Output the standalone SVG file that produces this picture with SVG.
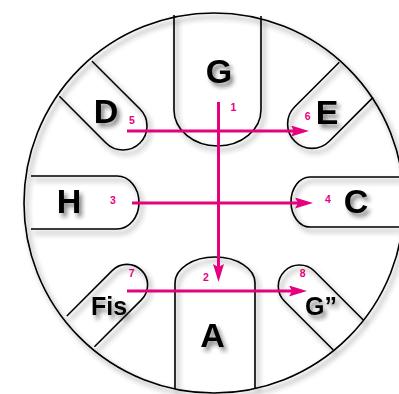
<svg xmlns="http://www.w3.org/2000/svg" width="399" height="394" viewBox="0 0 399 394">
<defs>
<filter id="sh" x="-10%" y="-10%" width="120%" height="120%">
<feDropShadow dx="3" dy="4" stdDeviation="2.5" flood-color="#333" flood-opacity="0.6"/>
</filter>
<filter id="tsh" x="-30%" y="-30%" width="160%" height="160%">
<feDropShadow dx="3" dy="4" stdDeviation="2" flood-color="#222" flood-opacity="0.55"/>
</filter>
<marker id="ah" viewBox="0 0 18 11" refX="10" refY="5.5" markerWidth="18" markerHeight="11" markerUnits="userSpaceOnUse" orient="auto">
<path d="M0,0 L18,5.5 L0,11 L3,5.5 z" fill="#e6007e"/>
</marker>
<style>
.ol{fill:none;stroke:#000;stroke-width:1.6}
.big{font-family:"Liberation Sans",Arial,sans-serif;font-weight:bold;font-size:34px;text-anchor:middle;fill:#000}
.mid{font-family:"Liberation Sans",Arial,sans-serif;font-weight:bold;font-size:25px;text-anchor:middle;fill:#000}
.num{font-family:"Liberation Sans",Arial,sans-serif;font-weight:bold;font-size:10.5px;text-anchor:middle;fill:#e6007e}
.cn{fill:none;stroke:#e6007e;stroke-width:3}
</style>
</defs>
<rect width="399" height="394" fill="#fff"/>
<g id="outlines" filter="url(#sh)">
<g id="rim"><circle class="ol" cx="214" cy="203" r="190" stroke-width="1.4"/></g>
<g id="petal-G"><path class="ol" d="M174,15 L174,110 A43.5,36 0 0 0 261,110 L261,16"/></g>
<g id="petal-D"><path class="ol" transform="translate(123,126) rotate(45)" d="M-68,-24 L0,-24 A24,24 0 0 1 0,24 L-66,24"/></g>
<g id="petal-E"><path class="ol" transform="translate(312,124) rotate(135)" d="M-62,-24.4 L0,-24.4 A24.4,24.4 0 0 1 0,24.4 L-63,24.4"/></g>
<g id="petal-H"><path class="ol" d="M31,176 L117,176 A22,26.5 0 0 1 117,229 L31,229"/></g>
<g id="petal-C"><path class="ol" d="M399,177 L310,177 A19,25 0 0 0 310,227 L399,227"/></g>
<g id="petal-Fis"><path class="ol" transform="translate(127,285) rotate(-45)" d="M-64.5,-20.6 L0,-20.6 A20.6,20.6 0 0 1 0,20.6 L-66.7,20.6"/></g>
<g id="petal-A"><path class="ol" d="M175,389 L175,283 A40,26 0 0 1 255,283 L255,389"/></g>
<g id="petal-G2"><path class="ol" transform="translate(299.5,286.2) rotate(-135)" d="M-69,-21.2 L0,-21.2 A21.2,21.2 0 0 1 0,21.2 L-69,21.2"/></g>
</g>
<g id="labels" filter="url(#tsh)">
<text id="node-G" class="big" x="219" y="83">G</text>
<text id="node-D" class="big" x="106" y="123">D</text>
<text id="node-E" class="big" x="327" y="123.5">E</text>
<text id="node-H" class="big" x="69" y="213">H</text>
<text id="node-C" class="big" x="356" y="212.5">C</text>
<text id="node-Fis" class="mid" x="109" y="315">Fis</text>
<text id="node-A" class="big" x="212.5" y="346.5" font-size="32">A</text>
<text id="node-G2" class="mid" x="321" y="315">G”</text>
</g>
<g id="numbers">
<text class="num" x="233.5" y="111">1</text>
<text class="num" x="206" y="280.5">2</text>
<text class="num" x="113" y="204">3</text>
<text class="num" x="328" y="202.5">4</text>
<text class="num" x="132" y="124">5</text>
<text class="num" x="307.7" y="119.5">6</text>
<text class="num" x="131.7" y="276.5">7</text>
<text class="num" x="302.7" y="277">8</text>
</g>
<g id="connectors">
<line class="cn" x1="218.5" y1="102" x2="218.5" y2="274" marker-end="url(#ah)"/>
<line class="cn" x1="127" y1="131" x2="301" y2="131" marker-end="url(#ah)"/>
<line class="cn" x1="132" y1="203" x2="305" y2="203" marker-end="url(#ah)"/>
<line class="cn" x1="127" y1="291" x2="299" y2="291" marker-end="url(#ah)"/>
</g>
</svg>
